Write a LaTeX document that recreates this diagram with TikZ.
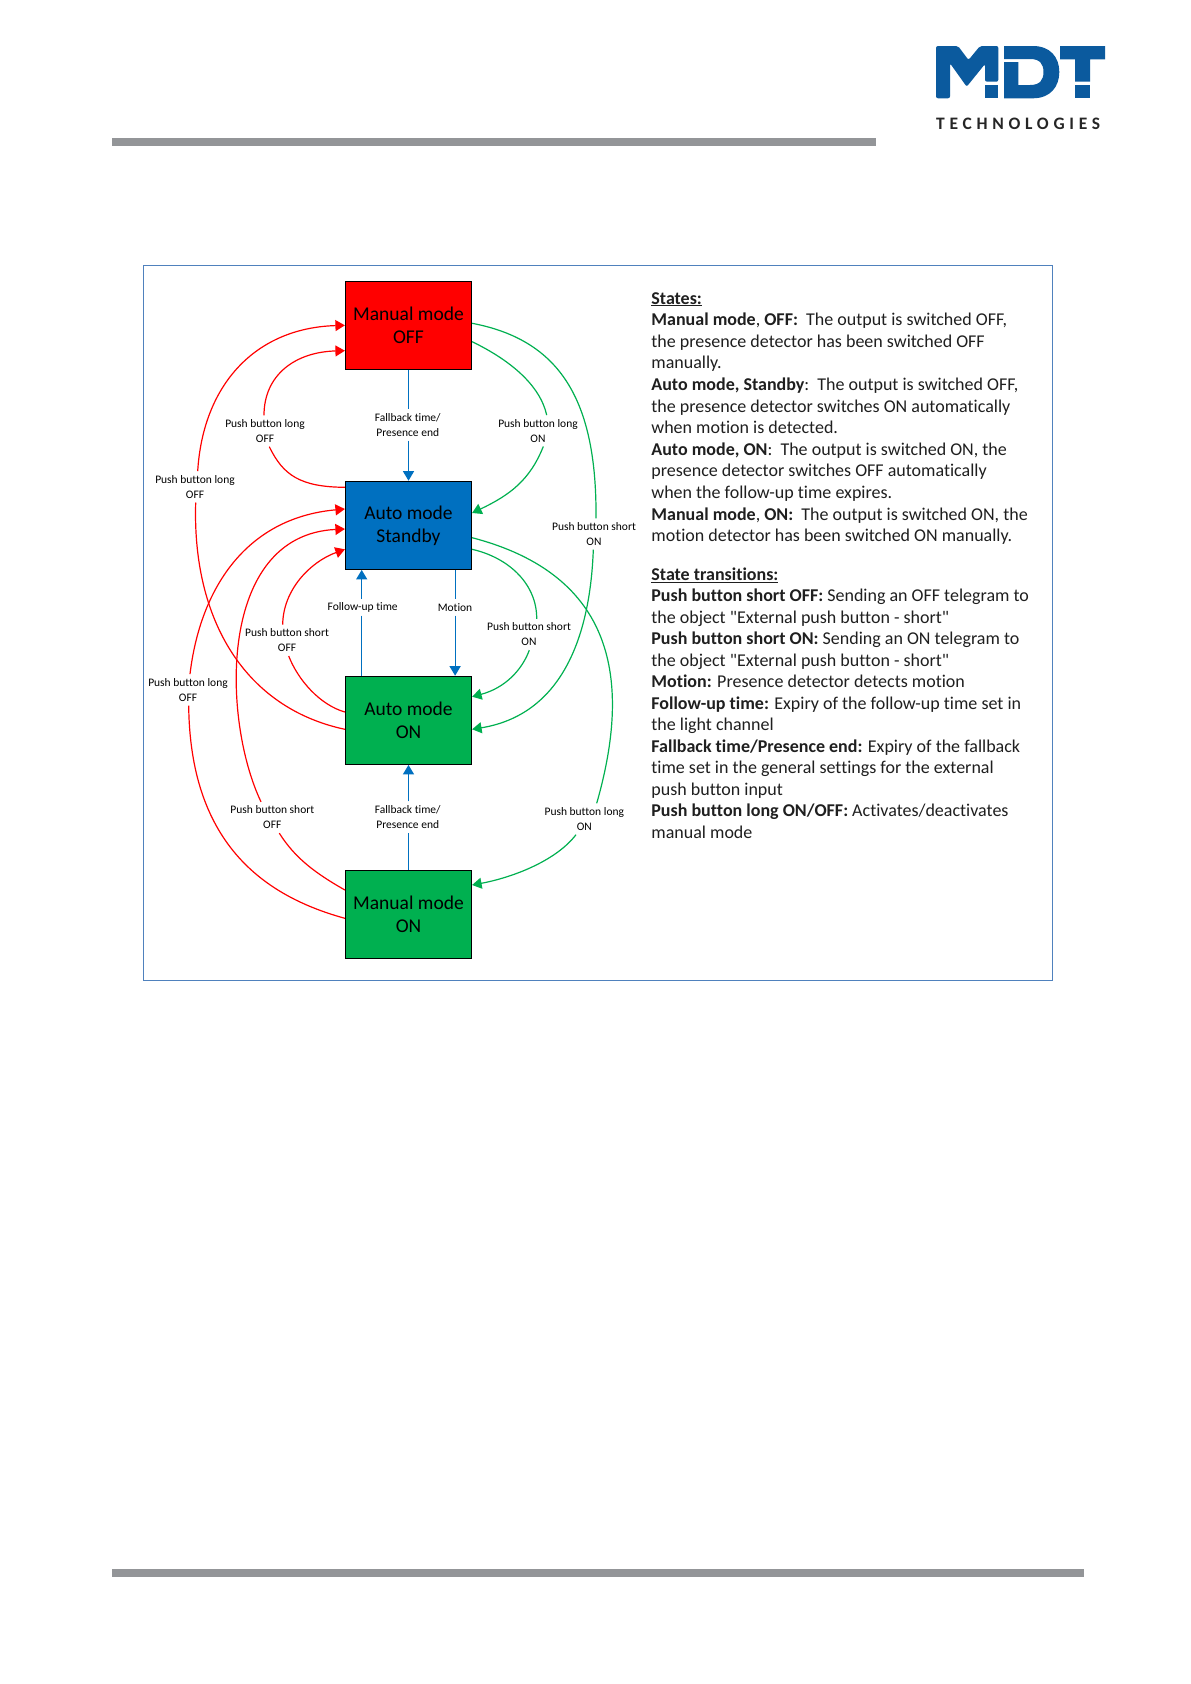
\documentclass[tikz,border=0pt]{standalone}
\usepackage{fontspec}
\setmainfont{Carlito}[Ligatures={TeXOff,NoCommon}]
\usepackage{xcolor}
\usetikzlibrary{positioning,arrows.meta}
\definecolor{mdtblue}{HTML}{0B5A9E}
\definecolor{barline}{HTML}{939598}
\definecolor{framecol}{HTML}{4F81BD}
\definecolor{redstate}{HTML}{FF0000}
\definecolor{bluestate}{HTML}{0070C0}
\definecolor{greenstate}{HTML}{00B050}
\begin{document}
\begin{tikzpicture}[
  x=1pt, y=-1pt,
  >={Triangle[length=9.5pt,width=11pt]},
  statebox/.style={draw=black, line width=1.2pt, minimum width=126pt, minimum height=88pt,
                   inner sep=0pt, align=center, font=\fontsize{19.5}{23}\selectfont},
  lbl/.style={align=center, inner sep=0pt, minimum height=31pt,
              font=\fontsize{11.5}{15}\selectfont},
  lblone/.style={align=center, inner sep=0pt, minimum height=16pt,
              font=\fontsize{11.5}{15}\selectfont},
  toredge/.style={redstate, line width=1.2pt},
  togreen/.style={greenstate, line width=1.2pt},
  toblue/.style={bluestate, line width=1.2pt},
  notes/.style={align=left, inner sep=0pt, anchor=north west, text=black!88,
                font=\fontsize{18}{21.6}\selectfont}
]
\useasboundingbox (0,0) rectangle (1191,1684);
\fill[white] (0,0) rectangle (1191,1684);

% bars
\fill[barline] (112,137.5) rectangle (876,146);
\fill[barline] (112,1569) rectangle (1084,1577);

% logo
\fill[mdtblue, rounded corners=2pt] (936,46) -- (958,46) -- (968.5,60) -- (980,46) -- (998.3,46)
  -- (998.3,81.7) -- (985,81.7) -- (985,64) -- (966.7,86.7) -- (950,63.3) -- (950,98.3) -- (936,98.3) -- cycle;
\fill[mdtblue] (985,85) rectangle (998.3,98.3);
\fill[mdtblue, even odd rule] (1004,46) -- (1033,46) .. controls (1050,46) and (1059.3,57) .. (1059.3,72)
  .. controls (1059.3,87) and (1050,98.3) .. (1033,98.3) -- (1004,98.3) -- (1004,62) -- (1018.3,62) -- (1018.3,85)
  -- (1030,85) .. controls (1040,85) and (1043.5,80) .. (1043.5,72) .. controls (1043.5,64) and (1040,59) .. (1030,59)
  -- (1004,59) -- cycle;
\fill[mdtblue] (1060,46) -- (1105,46) -- (1105,59.3) -- (1090,59.3) -- (1090,81.7) -- (1075,81.7) -- (1075,59.3) -- (1060,59.3) -- cycle;
\fill[mdtblue] (1075,85) rectangle (1090,98.3);
\node[inner sep=0pt, anchor=west, text=black!85] (logotext) at (936,123.5)
  {\fontsize{17.5}{17.5}\selectfont\addfontfeature{LetterSpace=27}\textbf{TECHNOLOGIES}};

% frame
\draw[framecol, line width=1.2pt] (143.7,265.3) rectangle (1052.3,980.3);

% states
\node[statebox, fill=redstate] (manoff) at (408.5,325.3) {Manual mode\\OFF};
\node[statebox, fill=bluestate] (standby) at (408.5,525.3) {Auto mode\\Standby};
\node[statebox, fill=greenstate] (auton) at (408.5,720.3) {Auto mode\\ON};
\node[statebox, fill=greenstate] (manon) at (408.5,914.3) {Manual mode\\ON};

% labels
\node[lbl] (fallbacka) at (407.7,424.8) {Fallback time/\\Presence end};
\node[lbl] (fallbackb) at (407.7,817) {Fallback time/\\Presence end};
\node[lblone] (followup) at (362.7,607.3) {Follow-up time};
\node[lblone] (motion) at (455,607.3) {Motion};
\node[lbl] (longoffa) at (265,431) {Push button long\\OFF};
\node[lbl] (longoffb) at (195,486.8) {Push button long\\OFF};
\node[lbl] (longoffc) at (188,689.8) {Push button long\\OFF};
\node[lbl] (shortoffa) at (287,640.3) {Push button short\\OFF};
\node[lbl] (shortoffb) at (272.3,817.5) {Push button short\\OFF};
\node[lbl] (longona) at (538,430.8) {Push button long\\ON};
\node[lbl] (longonb) at (584.3,819) {Push button long\\ON};
\node[lbl] (shortona) at (594,534) {Push button short\\ON};
\node[lbl] (shortonb) at (529,634.5) {Push button short\\ON};

% blue transitions
\draw[toblue] (manoff.south) -- (fallbacka.north -| manoff.south);
\draw[toblue,->] (fallbacka.south -| manoff.south) -- (standby.north);
\draw[toblue] (manon.north) -- (fallbackb.south -| manon.north);
\draw[toblue,->] (fallbackb.north -| manon.north) -- (auton.south);
\draw[toblue] (followup.south -| auton.north west) ++(16.8,0) -- ([xshift=16.8pt]auton.north west);
\draw[toblue,->] ([xshift=16.8pt]followup.north -| standby.south west) -- ([xshift=16.8pt]standby.south west);
\draw[toblue] ([xshift=-17pt]standby.south east) -- ([xshift=-17pt]motion.north -| standby.south east);
\draw[toblue,->] ([xshift=-17pt]motion.south -| auton.north east) -- ([xshift=-17pt]auton.north east);

% red transitions
\draw[toredge] ([yshift=-9pt]auton.west) .. controls (245,708) and (192,620) .. ([xshift=.7pt]longoffb.south);
\draw[toredge,->] ([xshift=2.7pt]longoffb.north) .. controls (203,385) and (255,328) .. (manoff.west);
\draw[toredge] ([yshift=38pt]standby.west) .. controls (300,487) and (283,475) .. ([xshift=4.3pt]longoffa.south);
\draw[toredge,->] ([xshift=-1pt]longoffa.north) .. controls (264,375) and (295,352) .. ([yshift=-25.4pt]manoff.west);
\draw[toredge] ([yshift=-4pt]manon.west) .. controls (260,895) and (190,840) .. ([xshift=.7pt]longoffc.south);
\draw[toredge,->] ([xshift=2pt]longoffc.north) .. controls (200,590) and (245,518) .. ([yshift=16.3pt]standby.west);
\draw[toredge] ([yshift=24.3pt]manon.west) .. controls (315,873) and (295,858) .. ([xshift=7pt]shortoffb.south);
\draw[toredge,->] ([xshift=-11.3pt]shortoffb.north) .. controls (222,720) and (217,535) .. ([yshift=-3.7pt]standby.west);
\draw[toredge] ([yshift=8.3pt]auton.west) .. controls (320,705) and (298,680) .. ([xshift=1.7pt]shortoffa.south);
\draw[toredge,->] ([xshift=-4.3pt]shortoffa.north) .. controls (283,590) and (310,562) .. ([yshift=-24pt]standby.west);

% green transitions
\draw[togreen] ([yshift=2pt]manoff.east) .. controls (560,340) and (597,400) .. ([xshift=2pt]shortona.north);
\draw[togreen,->] ([xshift=-.7pt]shortona.south) .. controls (590,640) and (560,715) .. ([yshift=-9pt]auton.east);
\draw[togreen] ([yshift=-16.4pt]manoff.east) .. controls (510,360) and (540,385) .. ([xshift=8.7pt]longona.north);
\draw[togreen,->] ([xshift=5.3pt]longona.south) .. controls (530,480) and (510,495) .. ([yshift=12.3pt]standby.east);
\draw[togreen] ([yshift=-24pt]standby.east) .. controls (510,558) and (537,585) .. ([xshift=7.7pt]shortonb.north);
\draw[togreen,->] ([xshift=.3pt]shortonb.south) .. controls (522,670) and (505,688) .. ([yshift=23.6pt]auton.east);
\draw[togreen] ([yshift=-12.4pt]standby.east) .. controls (615,575) and (632,680) .. ([xshift=12.4pt]longonb.north);
\draw[togreen,->] ([xshift=-8.3pt]longonb.south) .. controls (555,862) and (510,878) .. ([yshift=29.3pt]manon.east);

% description
\node[notes] (statestext) at (651.2,292) {%
\textbf{\underline{States:}}\\
\textbf{Manual mode}, \textbf{OFF:}\ \ The output is switched OFF,\\
the presence detector has been switched OFF\\
manually.\\
\textbf{Auto mode, Standby}:\ \ The output is switched OFF,\\
the presence detector switches ON automatically\\
when motion is detected.\\
\textbf{Auto mode, ON}:\ \ The output is switched ON, the\\
presence detector switches OFF automatically\\
when the follow-up time expires.\\
\textbf{Manual mode}, \textbf{ON:}\ \ The output is switched ON, the\\
motion detector has been switched ON manually.};
\node[notes, font=\fontsize{18}{21.5}\selectfont] (transtext) at (651.2,567.5) {%
\textbf{\underline{State transitions:}}\\
\textbf{Push button short OFF:} Sending an OFF telegram to\\
the object "External push button - short"\\
\textbf{Push button short ON:} Sending an ON telegram to\\
the object "External push button - short"\\
\textbf{Motion:} Presence detector detects motion\\
\textbf{Follow-up time:} Expiry of the follow-up time set in\\
the light channel\\
\textbf{Fallback time/Presence end:} Expiry of the fallback\\
time set in the general settings for the external\\
push button input\\
\textbf{Push button long ON/OFF:} Activates/deactivates\\
manual mode};
\end{tikzpicture}
\end{document}
